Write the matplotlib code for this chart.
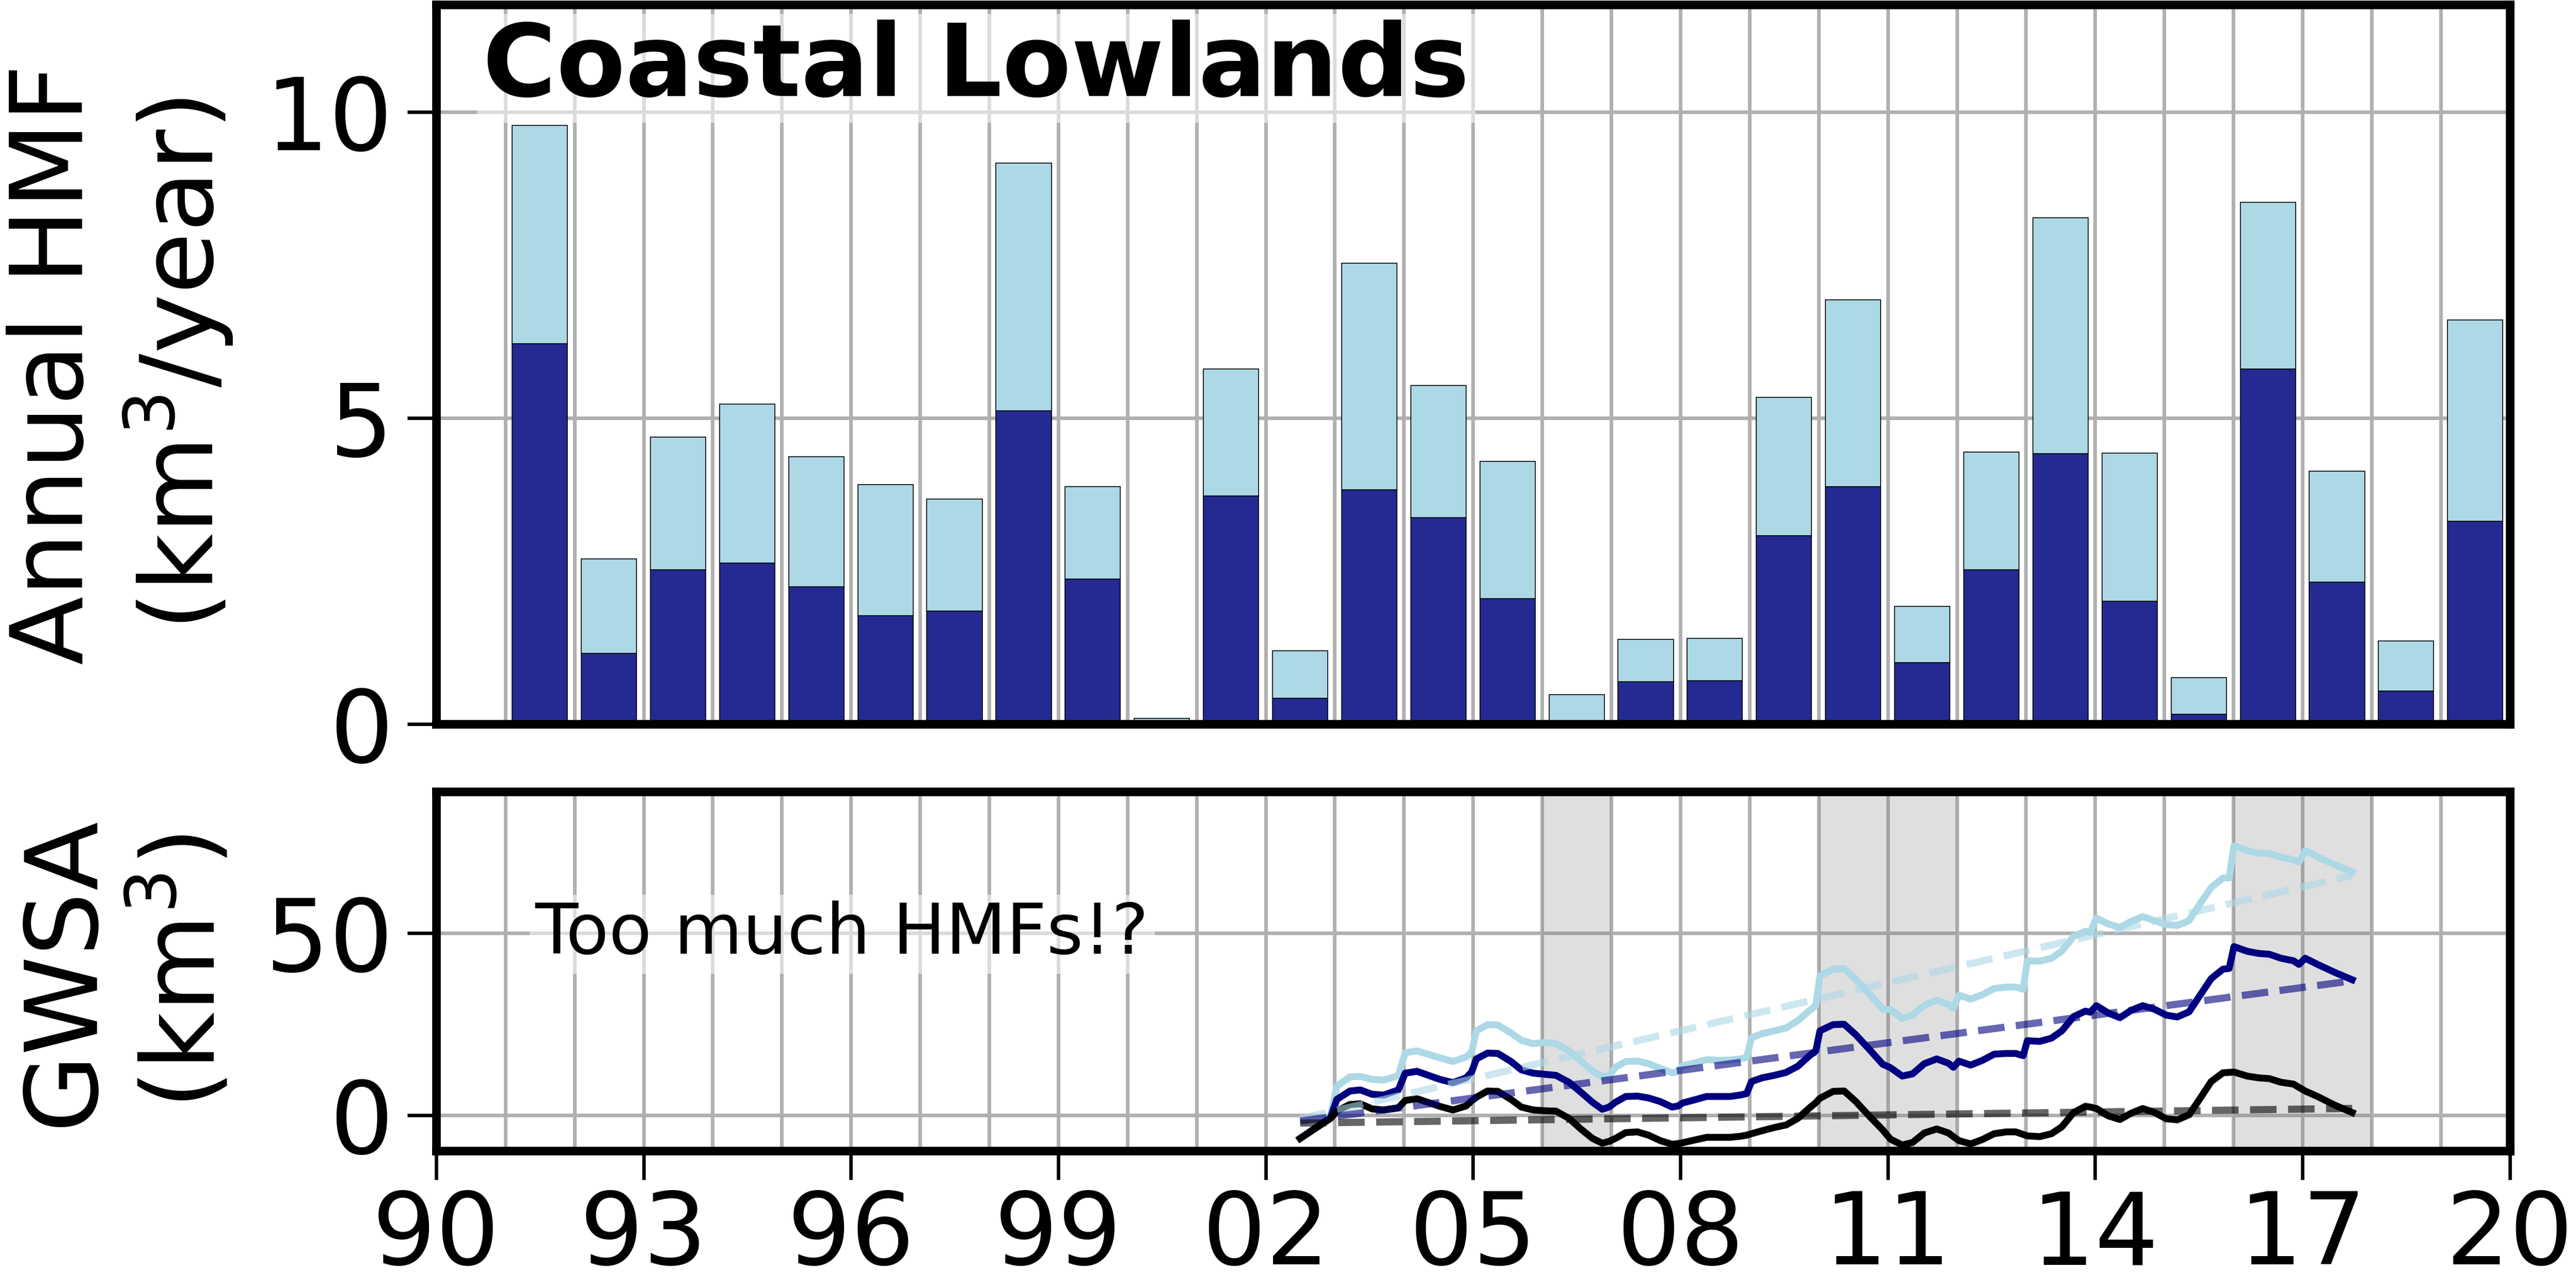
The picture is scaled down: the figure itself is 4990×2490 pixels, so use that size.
import matplotlib
matplotlib.use("Agg")
import matplotlib.pyplot as plt
import numpy as np

# ---------------- data ----------------
years = np.arange(1991, 2020)
hmf_total = [9.78, 2.70, 4.69, 5.23, 4.37, 3.91, 3.68, 9.16, 3.88, 0.09,
             5.80, 1.20, 7.53, 5.53, 4.29, 0.48, 1.38, 1.40, 5.34, 6.93,
             1.92, 4.44, 8.27, 4.43, 0.76, 8.52, 4.13, 1.36, 6.60]
hmf_dark = [6.21, 1.16, 2.52, 2.63, 2.24, 1.77, 1.85, 5.12, 2.37, 0.0,
            3.73, 0.42, 3.83, 3.37, 2.05, 0.0, 0.69, 0.71, 3.08, 3.88,
            1.00, 2.52, 4.42, 2.01, 0.16, 5.80, 2.32, 0.54, 3.31]

gws_time = [2002.50, 2002.94, 2003.03, 2003.22, 2003.37, 2003.54, 2003.71, 2003.92,
            2004.02, 2004.19, 2004.52, 2004.71, 2004.90, 2004.98, 2005.05, 2005.21,
            2005.36, 2005.55, 2005.70, 2005.87, 2006.03, 2006.20, 2006.39, 2006.56,
            2006.73, 2006.87, 2006.97, 2007.06, 2007.21, 2007.38, 2007.54, 2007.71,
            2007.88, 2007.97, 2008.03, 2008.19, 2008.38, 2008.55, 2008.72, 2008.87,
            2008.96, 2009.03, 2009.18, 2009.36, 2009.53, 2009.70, 2009.87, 2009.96,
            2010.02, 2010.21, 2010.37, 2010.54, 2010.73, 2010.93, 2011.04, 2011.21,
            2011.36, 2011.53, 2011.71, 2011.88, 2011.95, 2012.03, 2012.20, 2012.37,
            2012.54, 2012.72, 2012.85, 2012.96, 2013.02, 2013.20, 2013.37, 2013.52,
            2013.69, 2013.86, 2013.93, 2014.02, 2014.19, 2014.36, 2014.52, 2014.69,
            2014.86, 2015.03, 2015.19, 2015.36, 2015.51, 2015.68, 2015.85, 2015.94,
            2016.01, 2016.20, 2016.37, 2016.52, 2016.69, 2016.87, 2016.95, 2017.04,
            2017.23, 2017.47, 2017.72]
gws_navy = [-6.3, -0.6, 4.4, 6.7, 7.0, 5.8, 5.6, 7.0,
            11.6, 12.1, 9.9, 9.0, 10.3, 11.9, 15.5, 17.1,
            17.0, 14.8, 12.5, 11.6, 11.3, 11.0, 9.1, 6.4,
            3.6, 1.7, 2.3, 3.6, 5.2, 5.3, 4.8, 3.8,
            2.3, 2.6, 3.4, 4.2, 5.2, 5.2, 5.2, 5.6,
            6.0, 9.3, 10.3, 11.0, 11.8, 13.5, 16.4, 17.7,
            23.2, 24.9, 25.0, 22.1, 18.2, 14.0, 13.1, 10.8,
            11.4, 14.2, 15.5, 14.3, 13.2, 14.9, 13.8, 15.1,
            16.8, 17.0, 17.0, 16.4, 20.5, 20.3, 21.2, 23.2,
            27.1, 28.6, 28.3, 30.1, 28.1, 26.8, 28.8, 30.1,
            29.1, 27.5, 27.0, 28.4, 32.7, 37.5, 40.1, 40.3,
            46.3, 45.0, 44.4, 44.2, 43.1, 42.4, 41.4, 43.1,
            41.3, 39.2, 37.2]
gws_light = [-6.3, -0.1, 8.0, 10.6, 10.7, 9.9, 9.7, 10.9,
             17.2, 17.7, 15.8, 14.8, 16.0, 17.4, 23.2, 24.9,
             24.8, 22.6, 20.6, 19.7, 20.0, 19.7, 17.7, 14.9,
             12.2, 10.6, 10.9, 13.2, 14.8, 14.9, 14.2, 12.9,
             11.7, 12.1, 13.6, 14.3, 15.3, 15.1, 15.2, 15.5,
             15.9, 21.3, 22.4, 23.2, 24.0, 26.0, 28.8, 30.1,
             38.3, 40.1, 40.3, 37.3, 33.4, 29.1, 29.0, 26.6,
             27.5, 30.2, 31.6, 30.4, 29.4, 33.0, 31.9, 33.1,
             34.8, 35.2, 35.2, 34.6, 42.4, 42.3, 43.1, 45.1,
             49.1, 50.5, 50.2, 54.1, 52.5, 51.5, 53.2, 54.5,
             53.4, 52.3, 52.1, 53.4, 57.8, 62.5, 65.1, 65.1,
             73.9, 72.6, 71.9, 71.8, 70.8, 70.1, 69.4, 72.6,
             70.8, 68.7, 66.8]
gws_black = [-6.3, -0.8, 1.2, 3.0, 3.2, 1.8, 1.5, 2.1,
             4.1, 4.6, 2.5, 1.5, 2.6, 4.0, 5.0, 6.7,
             6.6, 4.4, 2.3, 1.5, 1.3, 1.2, -0.8, -3.7,
             -6.3, -7.6, -7.1, -6.3, -4.7, -4.5, -5.4, -6.9,
             -7.9, -7.7, -7.5, -6.8, -6.0, -6.0, -6.0, -5.7,
             -5.4, -5.0, -4.2, -3.3, -2.6, -0.8, 2.1, 3.5,
             4.7, 6.6, 6.7, 3.8, -0.1, -4.0, -6.5, -8.1,
             -7.4, -4.8, -3.7, -4.8, -5.8, -6.9, -7.8, -6.6,
             -5.0, -4.5, -4.5, -5.2, -5.6, -5.8, -5.0, -3.1,
             0.8, 2.5, 2.3, 1.9, -0.1, -1.1, 0.6, 1.9,
             0.8, -0.9, -1.2, 0.2, 4.4, 9.3, 11.7, 11.8,
             11.9, 10.8, 10.3, 10.1, 9.1, 8.6, 7.7, 6.7,
             5.1, 2.8, 0.8]

trend_light = [-0.9, 65.8]   # value at first and last time
trend_navy = [-1.55, 36.9]
trend_black = [-2.1, 1.93]

drought_spans = [(2006, 2007), (2010, 2012), (2016, 2018)]
xtick_years = list(range(1990, 2021, 3))
xtick_labels = ["90", "93", "96", "99", "02", "05", "08", "11", "14", "17", "20"]

# ---------------- styling ----------------
DARK_BAR = "#242a92"
LIGHT = "lightblue"
NAVY = "navy"
GRID_C = "#b0b0b0"
FS = 70
SPINE_W = 6.0

fig = plt.figure(figsize=(24.95, 12.45), dpi=200)
ax1 = fig.add_axes([0.1693, 0.4365, 0.8050, 0.5598])
ax2 = fig.add_axes([0.1693, 0.1044, 0.8050, 0.2795])

for ax in (ax1, ax2):
    ax.set_axisbelow(True)
    ax.set_xlim(1990, 2020)
    ax.set_xticks(xtick_years)
    ax.set_xticks(np.arange(1990, 2021), minor=True)
    ax.grid(which="both", axis="x", color=GRID_C, linewidth=2.5)
    ax.grid(which="major", axis="y", color=GRID_C, linewidth=2.5)
    for s in ax.spines.values():
        s.set_linewidth(SPINE_W)
    ax.tick_params(axis="both", which="major", labelsize=FS, length=20, width=2.4,
                   direction="out")
    ax.tick_params(axis="x", which="major", pad=6)
    ax.tick_params(axis="y", which="major", pad=10)
    ax.tick_params(axis="both", which="minor", length=0)

# ---- top panel: bars ----
xb = years + 0.5
dark = np.array(hmf_dark)
upper = np.array(hmf_total) - dark
ax1.bar(xb, dark, width=0.8, color=DARK_BAR, edgecolor="black", linewidth=0.6, zorder=2)
ax1.bar(xb, upper, bottom=dark, width=0.8, color=LIGHT, edgecolor="black",
        linewidth=0.6, zorder=2)
ax1.set_ylim(0, 11.75)
ax1.set_yticks([0, 5, 10])
ax1.tick_params(axis="x", which="both", bottom=False, labelbottom=False)
ax1.set_ylabel("Annual HMF\n(km$^3$/year)", fontsize=FS)
ax1.yaxis.set_label_coords(-0.097, 0.5)
ax1.text(0.0225, 0.873, "Coastal Lowlands", transform=ax1.transAxes, fontsize=70,
         fontweight="bold", va="baseline", ha="left", zorder=5,
         bbox=dict(facecolor="white", edgecolor="none", alpha=0.55, pad=4))

# ---- bottom panel: GWSA ----
for a, b in drought_spans:
    ax2.axvspan(a, b, color="grey", alpha=0.25, linewidth=0, zorder=1)
ax2.plot(gws_time, gws_light, color=LIGHT, linewidth=4.8, zorder=2)
ax2.plot(gws_time, gws_navy, color=NAVY, linewidth=4.8, zorder=2)
ax2.plot(gws_time, gws_black, color="black", linewidth=4.8, zorder=2)
tt = [gws_time[0], gws_time[-1]]
ax2.plot(tt, trend_light, color=LIGHT, linestyle="--", linewidth=5.0, alpha=0.6, zorder=3)
ax2.plot(tt, trend_navy, color=NAVY, linestyle="--", linewidth=5.0, alpha=0.6, zorder=3)
ax2.plot(tt, trend_black, color="black", linestyle="--", linewidth=5.0, alpha=0.6, zorder=3)
ax2.set_ylim(-9.7, 88.75)
ax2.set_yticks([0, 50])
ax2.set_xticklabels(xtick_labels)
ax2.set_ylabel("GWSA\n(km$^3$)", fontsize=FS)
ax2.yaxis.set_label_coords(-0.097, 0.5)
ax2.text(0.0478, 0.549, "Too much HMFs!?", transform=ax2.transAxes, fontsize=49,
         va="baseline", ha="left", zorder=5,
         bbox=dict(facecolor="white", edgecolor="none", alpha=0.55, pad=4))

fig.savefig("out.png", dpi=200)
